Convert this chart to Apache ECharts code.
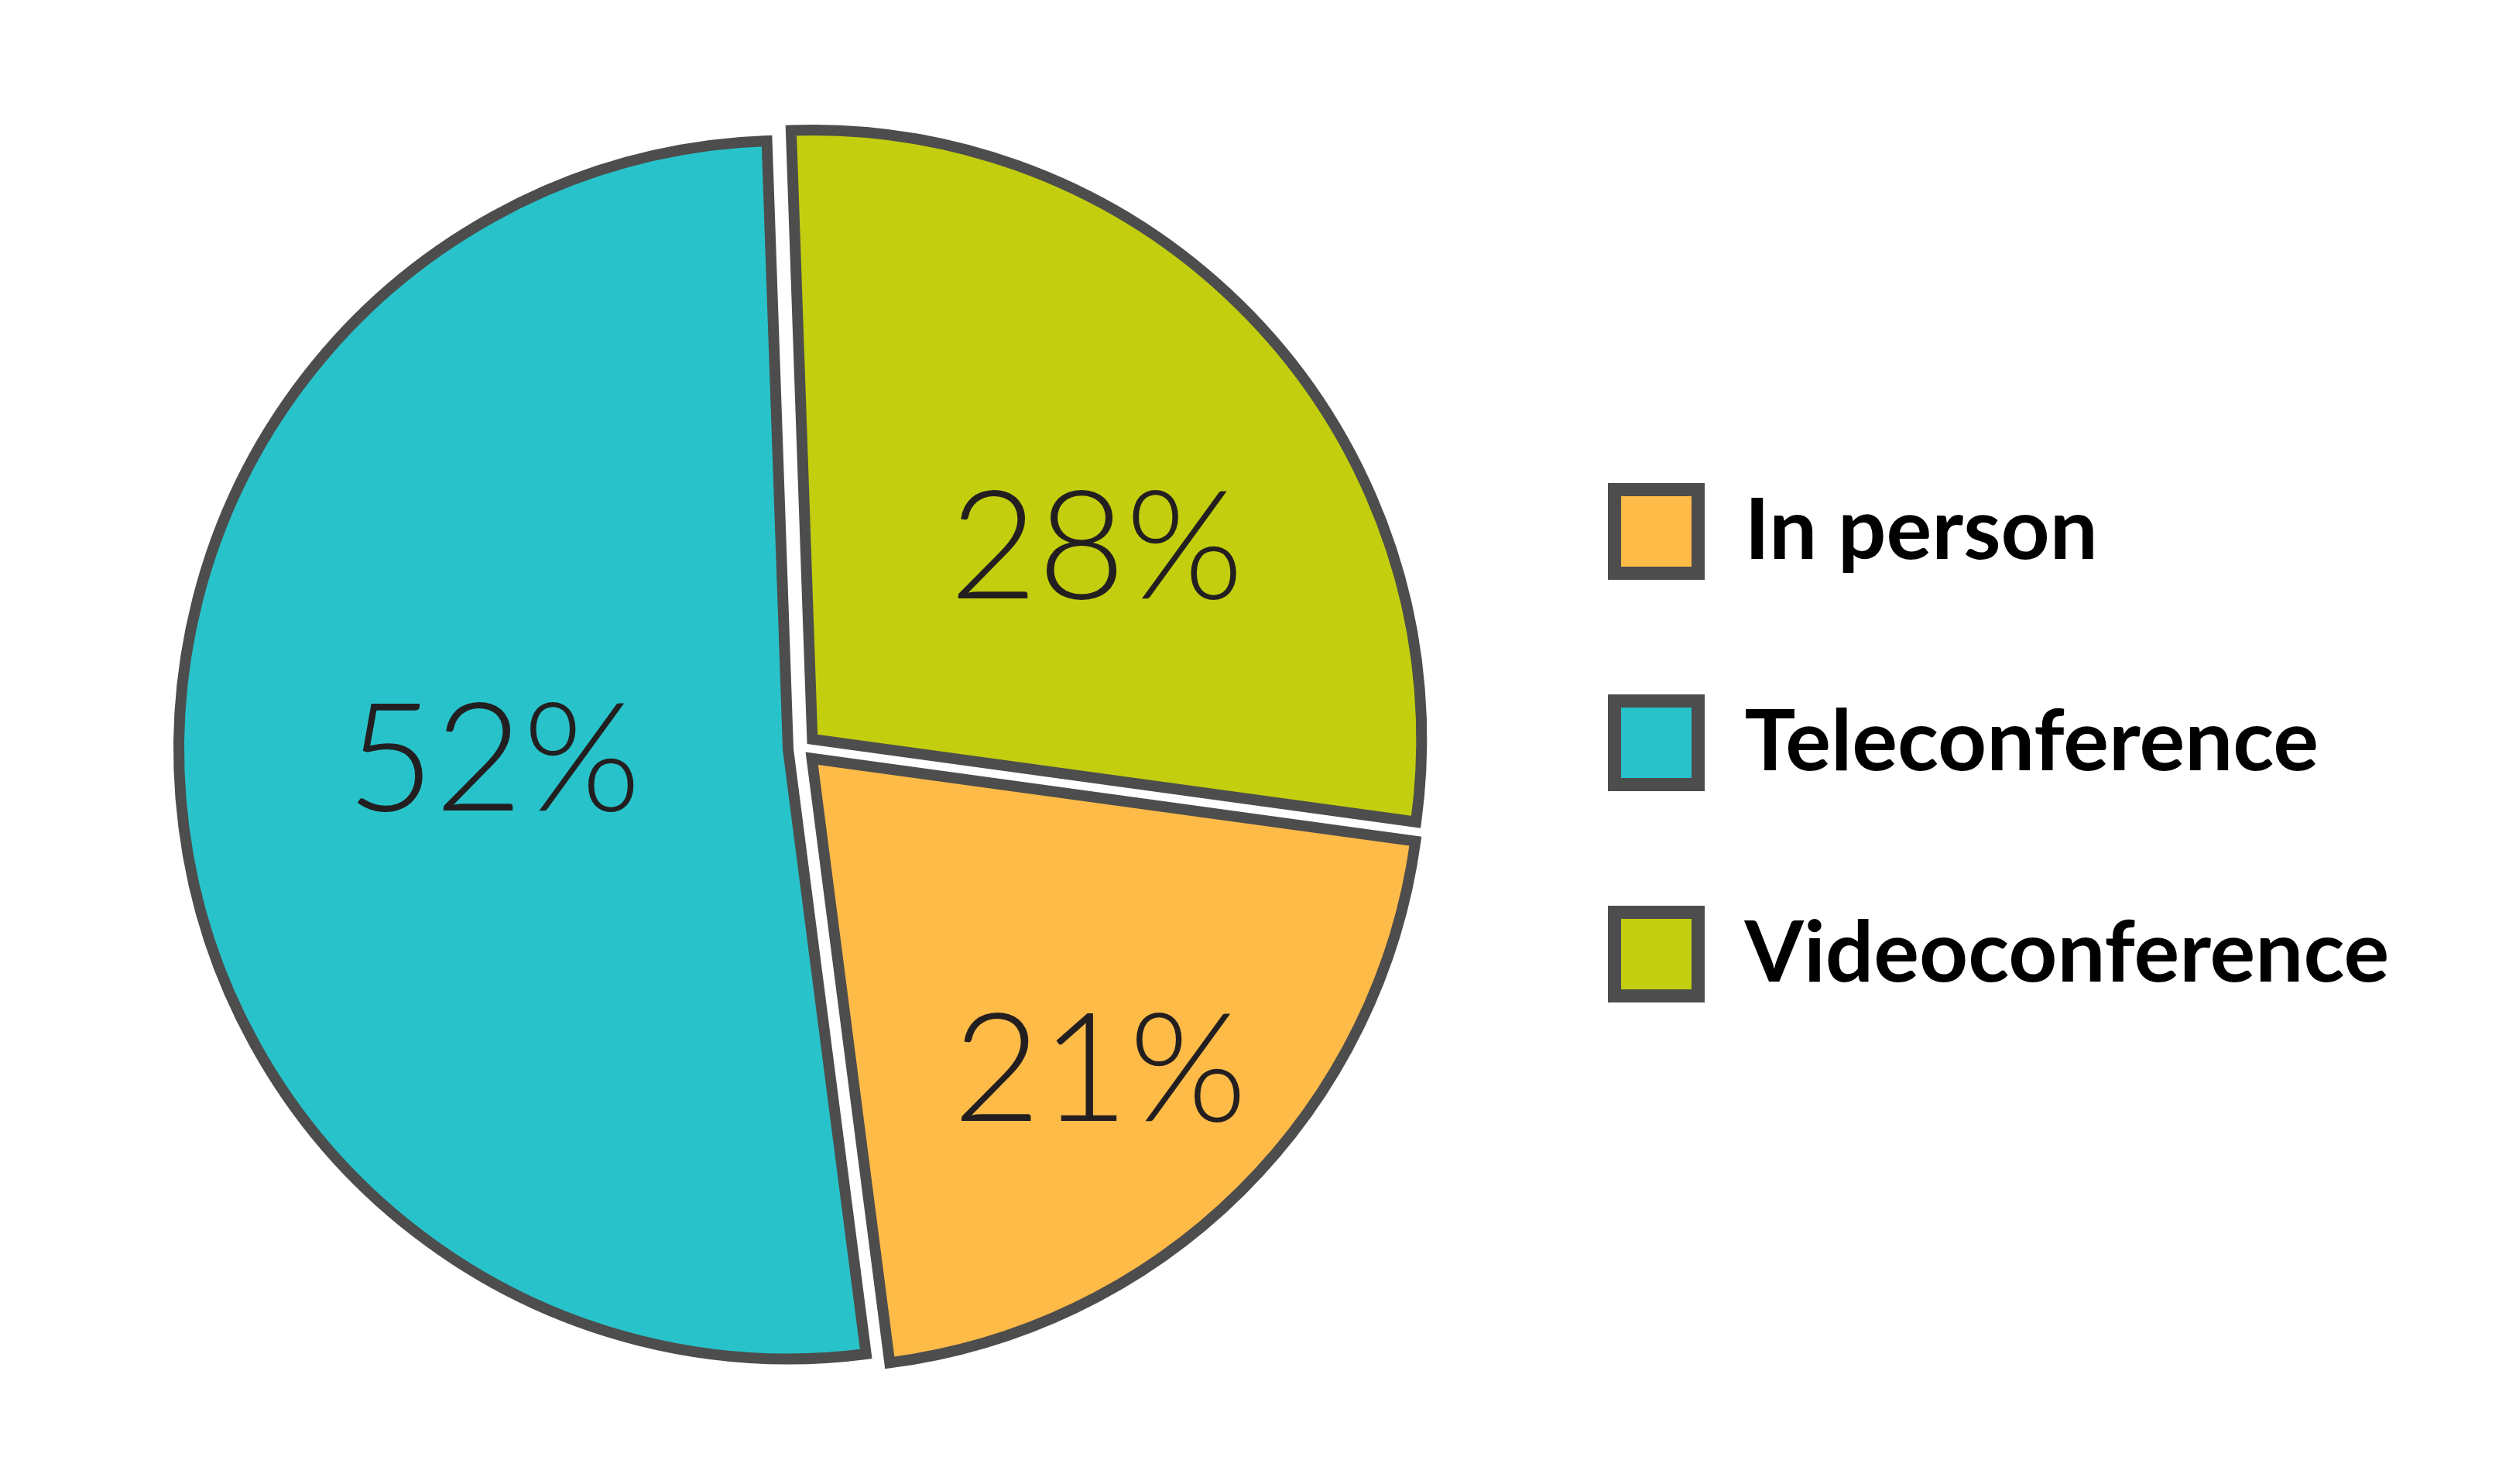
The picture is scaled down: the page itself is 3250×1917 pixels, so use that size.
<!DOCTYPE html>
<html>
<head>
<meta charset="utf-8">
<script src="https://cdn.jsdelivr.net/npm/echarts@6/dist/echarts.min.js"></script>
<style>
html,body{margin:0;padding:0;background:#fff;}
#chart{width:3250px;height:1917px;}
</style>
</head>
<body>
<div id="chart"></div>
<script>
// Slices in clockwise drawing order (from the top)
const categories = ['Videoconference', 'In person', 'Teleconference'];
const values = [28, 21, 52];
const colors = ['#C3CF0E', '#FFBB48', '#28C3CA'];
const legendOrder = ['In person', 'Teleconference', 'Videoconference'];

const borderColor = '#4d4d4d';
// label nudges (style only)
const labelNudge = [[73, 21], [93, 124], [15, -17]];

const chart = echarts.init(document.getElementById('chart'), null, {renderer: 'canvas'});
const data = categories.map((c, i) => ({
  name: c,
  value: values[i],
  selected: true,
  itemStyle: {color: colors[i]}
}));

chart.setOption({
  backgroundColor: '#ffffff',
  animation: false,
  legend: {
    orient: 'vertical',
    left: 2077,
    top: 624,
    padding: 0,
    itemWidth: 108,
    itemHeight: 108,
    itemGap: 148,
    icon: 'rect',
    selectedMode: false,
    data: legendOrder,
    itemStyle: {borderWidth: 17, borderColor: borderColor},
    textStyle: {
      fontFamily: 'Lato',
      fontWeight: 'bold',
      fontSize: 110,
      color: '#000000',
      padding: [0, 0, 0, 55]
    }
  },
  series: [{
    type: 'pie',
    center: [1036, 967],
    radius: [0, 787],
    startAngle: 92,
    clockwise: true,
    selectedMode: 'multiple',
    selectedOffset: 18,
    avoidLabelOverlap: false,
    itemStyle: {borderColor: borderColor, borderWidth: 14, borderJoin: 'miter'},
    select: {itemStyle: {borderColor: borderColor, borderWidth: 14}},
    emphasis: {disabled: true},
    label: {
      show: true,
      position: 'inside',
      formatter: p => p.value + '%',
      fontFamily: 'Lato',
      fontWeight: 300,
      fontSize: 196,
      color: '#231f20'
    },
    labelLayout: p => ({dx: labelNudge[p.dataIndex][0], dy: labelNudge[p.dataIndex][1]}),
    labelLine: {show: false},
    data: data
  }]
});
</script>
</body>
</html>
